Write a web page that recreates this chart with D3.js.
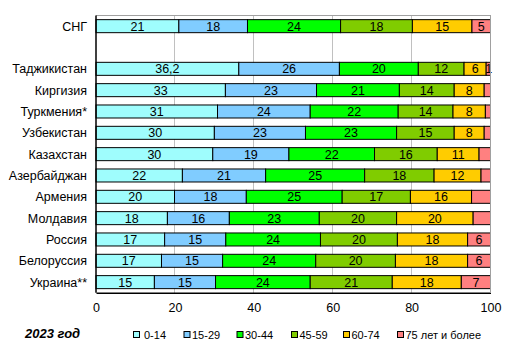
<!DOCTYPE html>
<html><head><meta charset="utf-8">
<script src="https://cdn.jsdelivr.net/npm/d3@7"></script>
<style>body{margin:0;background:#fff}text{font-family:"Liberation Sans",Arial,sans-serif}</style>
</head><body><svg id="c" width="515" height="355"></svg>
<script>
const categories = ["СНГ", "", "Таджикистан", "Киргизия", "Туркмения*", "Узбекистан", "Казахстан", "Азербайджан", "Армения", "Молдавия", "Россия", "Белоруссия", "Украина**"];
const seriesNames = ["0-14", "15-29", "30-44", "45-59", "60-74", "75 лет и более"];
const colors = ["#9ffdfd", "#80ccff", "#00ff00", "#80cc00", "#ffcc00", "#ff8080"];
// values per series (null for the empty spacer row)
const s0_14  = [21.0, null, 36.2, 32.8, 30.8, 30.0, 29.6, 21.9, 19.9, 18.1, 17.4, 16.6, 14.8];
const s15_29 = [17.4, null, 25.5, 23.1, 23.5, 23.1, 19.3, 21.1, 18.2, 15.7, 15.5, 15.5, 15.5];
const s30_44 = [23.6, null, 20.0, 21.0, 22.3, 23.1, 21.7, 25.1, 24.3, 22.8, 24.0, 23.6, 24.0];
const s45_59 = [18.2, null, 11.6, 13.9, 13.9, 14.6, 15.9, 17.6, 17.3, 19.6, 19.5, 20.2, 20.8];
const s60_74 = [15.1, null, 5.6, 7.6, 8.2, 7.6, 10.6, 11.9, 15.5, 19.4, 17.8, 18.3, 17.5];
const s75    = [4.7, null, 1.1, 1.6, 1.3, 1.6, 2.9, 2.4, 4.8, 4.4, 5.8, 5.8, 7.4];
// labels shown on the bars
const l0_14  = ["21", "", "36,2", "33", "31", "30", "30", "22", "20", "18", "17", "17", "15"];
const l15_29 = ["18", "", "26", "23", "24", "23", "19", "21", "18", "16", "15", "15", "15"];
const l30_44 = ["24", "", "20", "21", "22", "23", "22", "25", "25", "23", "24", "24", "24"];
const l45_59 = ["18", "", "12", "14", "14", "15", "16", "18", "17", "20", "20", "20", "21"];
const l60_74 = ["15", "", "6", "8", "8", "8", "11", "12", "16", "20", "18", "18", "18"];
const l75    = ["5", "", "1", "", "", "", "", "", "", "", "6", "6", "7"];
const xTicks = [0, 20, 40, 60, 80, 100];
const yearLabel = "2023 год";

const seriesVals = [s0_14, s15_29, s30_44, s45_59, s60_74, s75];
const seriesLabels = [l0_14, l15_29, l30_44, l45_59, l60_74, l75];

const svg = d3.select("#c");
const x = d3.scaleLinear().domain([0, 100]).range([96, 490.5]);
const y = d3.scaleBand().domain(categories.map((c, i) => i)).range([15.5, 292.8]).paddingInner(0.39).paddingOuter(0.195);

// gridlines
svg.append("g").selectAll("line").data(xTicks.slice(1)).join("line")
  .attr("x1", d => x(d)).attr("x2", d => x(d)).attr("y1", 15.5).attr("y2", 292.8)
  .attr("stroke", "#c0c0c0").attr("stroke-width", 1).attr("shape-rendering", "crispEdges");
// top frame
svg.append("line").attr("x1", x(0)).attr("x2", x(100)).attr("y1", 15.5).attr("y2", 15.5)
  .attr("stroke", "#a0a0a0").attr("shape-rendering", "crispEdges");

// stacked bars
const g = svg.append("g");
categories.forEach((cat, i) => {
  if (seriesVals[0][i] == null) return;
  let acc = 0;
  seriesVals.forEach((vals, k) => {
    const v = vals[i];
    const x0 = x(acc), x1 = x(acc + v);
    g.append("rect").attr("x", x0).attr("y", y(i)).attr("width", x1 - x0).attr("height", y.bandwidth())
      .attr("fill", colors[k]).attr("stroke", "#000").attr("stroke-width", 1);
    const lbl = seriesLabels[k][i];
    if (lbl) {
      g.append("text").attr("x", (x0 + x1) / 2 + (k === 5 && v < 2 ? 0.5 : 0)).attr("y", y(i) + y.bandwidth() / 2 + 4.5)
        .attr("text-anchor", "middle").attr("font-size", 12.5).attr("fill", "#000").text(lbl);
    }
    acc += v;
  });
});

// category labels
svg.append("g").selectAll("text").data(categories).join("text")
  .attr("x", 87).attr("y", (d, i) => y(i) + y.bandwidth() / 2 + 4.5)
  .attr("text-anchor", "end").attr("font-size", 12.5).attr("fill", "#000").text(d => d);

// axes
const xAxis = d3.axisBottom(x).tickValues(xTicks).tickSize(0).tickPadding(10).tickFormat(d3.format("d"));
const ax = svg.append("g").attr("transform", "translate(0,292.8)").call(xAxis);
ax.select(".domain").attr("stroke", "#000").attr("stroke-width", 1.5);
ax.selectAll("text").attr("font-size", 12.5).attr("fill", "#000").attr("font-family", "Liberation Sans, Arial, sans-serif");
svg.append("line").attr("x1", x(0)).attr("x2", x(0)).attr("y1", 15.5).attr("y2", 292.8)
  .attr("stroke", "#000").attr("stroke-width", 1.5);
svg.append("line").attr("x1", x(100)).attr("x2", x(100)).attr("y1", 15.5).attr("y2", 292.8)
  .attr("stroke", "#a0a0a0").attr("shape-rendering", "crispEdges");

// year label
svg.append("text").attr("x", 25).attr("y", 338).attr("font-size", 13).attr("font-weight", "bold")
  .attr("font-style", "italic").attr("fill", "#000").text(yearLabel);

// legend
const legX = [133, 183.5, 236.5, 291, 343, 397];
const leg = svg.append("g");
seriesNames.forEach((n, k) => {
  leg.append("rect").attr("x", legX[k] + 0.5).attr("y", 331.5).attr("width", 6).attr("height", 6)
    .attr("fill", colors[k]).attr("stroke", "#000").attr("stroke-width", 1);
  leg.append("text").attr("x", legX[k] + (k === 0 ? 11 : 8.5)).attr("y", 338.8).attr("font-size", 11)
    .attr("fill", "#000").text(n);
});
</script></body></html>
